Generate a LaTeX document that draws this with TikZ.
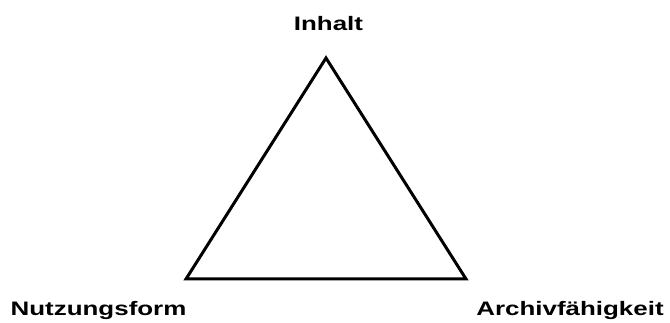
\documentclass[tikz,border=0pt]{standalone}
\usepackage{fontspec}
\setmainfont{Liberation Sans}
\begin{document}
\begin{tikzpicture}[x=1pt,y=-1pt,
  lbl/.style={anchor=base,inner sep=0pt,font=\fontsize{19.5}{22}\selectfont\bfseries},
  edge/.style={line width=3pt,line join=miter}]
\useasboundingbox (0,0) rectangle (670,323);
\coordinate (top) at (326,58);
\coordinate (bl) at (186,279);
\coordinate (br) at (466,279);
\draw[edge] (top) -- (bl) -- (br) -- cycle;
\node[lbl] (inhalt) at (328.5,31) {\scalebox{1.33}[1]{Inhalt}};
\node[lbl] (nutz) at (98.5,316) {\scalebox{1.33}[1]{Nutzungsform}};
\node[lbl] (arch) at (570,316) {\scalebox{1.33}[1]{Archivfähigkeit}};
\end{tikzpicture}
\end{document}
